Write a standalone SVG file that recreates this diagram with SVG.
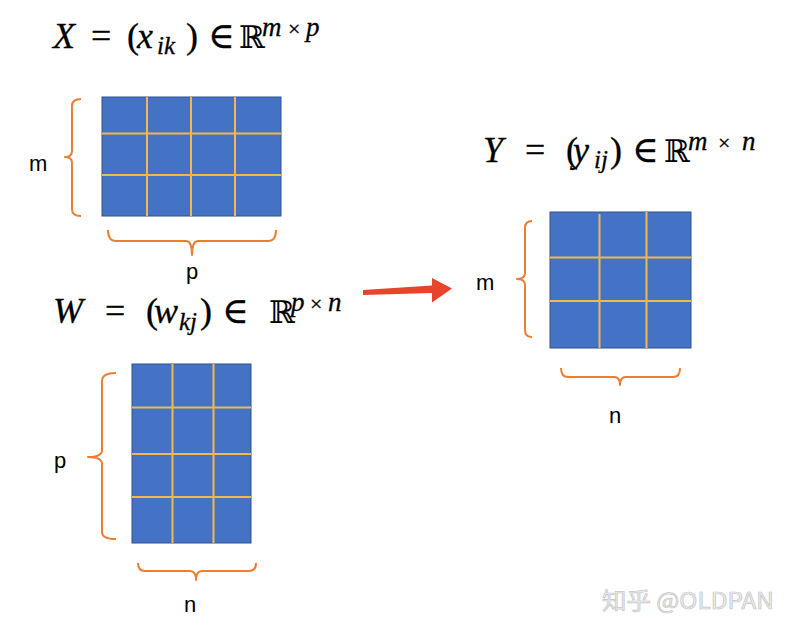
<svg xmlns="http://www.w3.org/2000/svg" width="790" height="625" viewBox="0 0 790 625">
<style>
.mat{fill:#4472c4;stroke:#2f528f;stroke-width:1}
.grid{stroke:#f2b94a;stroke-width:2;fill:none}
.brace{stroke:#ed7d31;stroke-width:2;fill:none;stroke-linejoin:round}
.lbl{font-family:"Liberation Sans",Arial,sans-serif;font-size:22px;fill:#000}
.math{font-family:"Liberation Serif","DejaVu Serif",serif;font-size:36px;fill:#000;stroke:#000;stroke-width:0.3}
.it{font-style:italic}
.sub{font-style:italic;font-size:25px}
.sup{font-style:italic;font-size:27px}
.x{font-size:22px}
.bb{font-family:"DejaVu Serif",serif;font-size:31px;stroke-width:0.1}
</style>
<rect width="790" height="625" fill="#fff"/>

<g id="formula-X">
<text class="math"><tspan class="it" x="53" y="48">X</tspan><tspan x="91" y="48">=</tspan><tspan x="127" y="48">(</tspan><tspan class="it" x="137" y="48">x</tspan><tspan class="sub" x="157" y="54">ik</tspan><tspan x="186" y="48">)</tspan><tspan x="208" y="48">∈</tspan><tspan class="bb" x="239" y="48">ℝ</tspan><tspan class="sup" x="262" y="36">m</tspan><tspan class="x" x="288" y="36">×</tspan><tspan class="sup" x="306" y="36">p</tspan></text>
</g>

<g id="matrix-X">
<rect class="mat" x="102" y="97" width="179" height="119"/>
<path class="grid" d="M147,97V216M191,97V216M235,97V216M102,133.5H281M102,175H281"/>
<path class="brace" d="M81,99Q72,99 72,106V151Q72,157 65,157Q72,157 72,163V209Q72,216 81,216"/>
<path class="brace" d="M108,230Q108,241 116,241H186Q192,241 192,255Q192,241 198,241H268Q276,241 276,230"/>
<text class="lbl" x="29" y="171">m</text>
<text class="lbl" x="186" y="279">p</text>
</g>

<g id="formula-W">
<text class="math"><tspan class="it" x="53" y="323">W</tspan><tspan x="105" y="323">=</tspan><tspan x="146" y="323">(</tspan><tspan class="it" x="154" y="323">w</tspan><tspan class="sub" x="179" y="330">kj</tspan><tspan x="200" y="323">)</tspan><tspan x="222" y="323">∈</tspan><tspan class="bb" x="269" y="323">ℝ</tspan><tspan class="sup" x="291" y="311">p</tspan><tspan class="x" x="310" y="311">×</tspan><tspan class="sup" x="328" y="311">n</tspan></text>
</g>

<g id="matrix-W">
<rect class="mat" x="132" y="364" width="119" height="179"/>
<path class="grid" d="M172.5,364V543M213.5,364V543M132,407.5H251M132,454H251M132,497H251"/>
<path class="brace" d="M116,373Q102,373 102,381V450Q102,457 88,457Q102,457 102,464V532Q102,539 116,539"/>
<path class="brace" d="M138,563Q138,571 145,571H190Q196,571 196,580Q196,571 202,571H249Q256,571 256,563"/>
<text class="lbl" x="54" y="468">p</text>
<text class="lbl" x="184" y="612">n</text>
</g>

<g id="formula-Y">
<text class="math"><tspan class="it" x="483" y="162">Y</tspan><tspan x="525" y="162">=</tspan><tspan x="566" y="162">(</tspan><tspan class="it" x="573" y="162">y</tspan><tspan class="sub" x="594" y="168">ij</tspan><tspan x="610" y="162">)</tspan><tspan x="632" y="162">∈</tspan><tspan class="bb" x="664" y="162">ℝ</tspan><tspan class="sup" x="688" y="150">m</tspan><tspan class="x" x="718" y="150">×</tspan><tspan class="sup" x="742" y="150">n</tspan></text>
</g>

<g id="matrix-Y">
<rect class="mat" x="550" y="212" width="141" height="136"/>
<path class="grid" d="M599.5,214V348M646.5,212V348M550,257.5H691M550,301H691"/>
<path class="brace" d="M532,221Q525,221 525,228V273Q525,279 517,279Q525,279 525,285V330Q525,337 532,337"/>
<path class="brace" d="M561,368Q561,377 568,377H614Q620,377 620,385Q620,377 626,377H673Q680,377 680,368"/>
<text class="lbl" x="476" y="290">m</text>
<text class="lbl" x="609" y="423">n</text>
</g>

<g id="connectors">
<path d="M363,290L432,285.5V278L452,288.5L432,302.5V293L363,295Z" fill="#e8432b"/>
</g>

<g id="watermark">
<text x="602" y="609" font-family="'Noto Sans CJK SC','Noto Sans',sans-serif" font-size="23" fill="#eeeeee" stroke="#c4c4c4" stroke-width="0.7" textLength="172" lengthAdjust="spacingAndGlyphs">知乎 @OLDPAN</text>
</g>
</svg>
